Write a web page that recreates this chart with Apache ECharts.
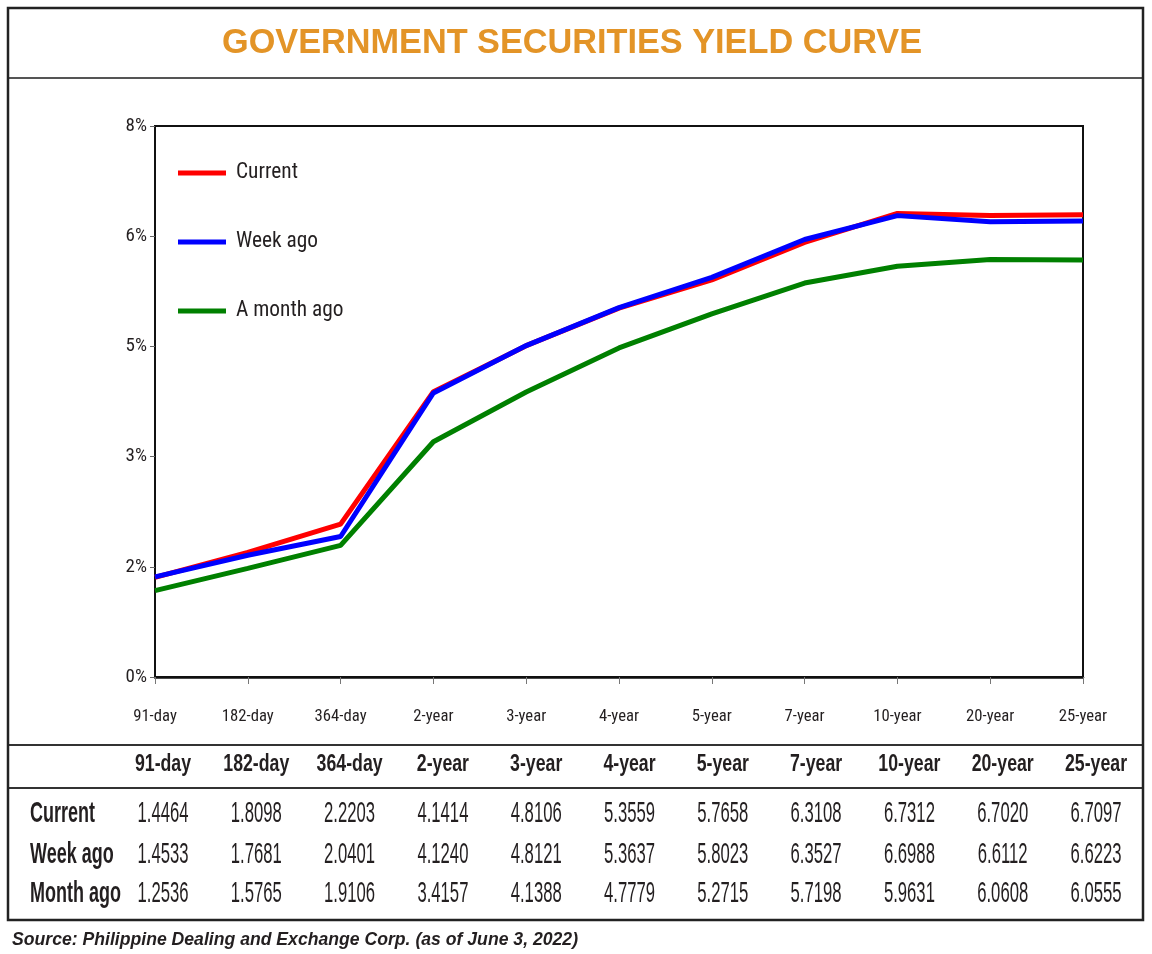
<!DOCTYPE html>
<html>
<head>
<meta charset="utf-8">
<script src="https://cdn.jsdelivr.net/npm/echarts@6/dist/echarts.min.js"></script>
<style>
html,body{margin:0;padding:0;background:#fff;}
#chart{width:1152px;height:954px;}
</style>
</head>
<body>
<div id="chart"></div>
<script>
// ---- data ----
const categories = ['91-day','182-day','364-day','2-year','3-year','4-year','5-year','7-year','10-year','20-year','25-year'];
const current  = [1.4464, 1.8098, 2.2203, 4.1414, 4.8106, 5.3559, 5.7658, 6.3108, 6.7312, 6.7020, 6.7097];
const weekAgo  = [1.4533, 1.7681, 2.0401, 4.1240, 4.8121, 5.3637, 5.8023, 6.3527, 6.6988, 6.6112, 6.6223];
const monthAgo = [1.2536, 1.5765, 1.9106, 3.4157, 4.1388, 4.7779, 5.2715, 5.7198, 5.9631, 6.0608, 6.0555];
const seriesNames = ['Current', 'Week ago', 'A month ago'];
const tableRowLabels = ['Current', 'Week ago', 'Month ago'];
const titleText = 'GOVERNMENT SECURITIES YIELD CURVE';
const sourceText = 'Source: Philippine Dealing and Exchange Corp. (as of June 3, 2022)';

// ---- fonts ----
const mctx = document.createElement('canvas').getContext('2d');
function textW(font, s) { mctx.font = '10px monospace'; mctx.font = font; return mctx.measureText(s).width; }
function hasFont(name) {
  const s = 'Current mmmWWiil 1.4464%';
  return Math.abs(textW('40px monospace', s) - textW('40px "' + name + '", monospace', s)) > 0.01;
}
const CANDIDATES = ['Liberation Sans Narrow','Arial Narrow','Nimbus Sans Narrow','Roboto Condensed','Open Sans Condensed',
  'Noto Sans ExtraCondensed','Noto Sans Condensed','Fira Sans Condensed','Ubuntu Condensed','DejaVu Sans Condensed'];
const found = CANDIDATES.filter(hasFont);
let narrowName = 'DejaVu Sans Condensed', best = Infinity;
found.forEach(n => { const ww = textW('40px "' + n + '"', 'Current 182-day'); if (ww < best) { best = ww; narrowName = n; } });
const NARROW = '"' + narrowName + '", sans-serif';
const SANS = '"Liberation Sans", Arial, sans-serif';
const TXT = '#231f20';

const xLabelSize = Math.min(17, 16 * 52 / textW('16px ' + NARROW, '182-day'));
const yLabelSize = Math.min(19, 18 * 22 / textW('18px ' + NARROW, '8%'));
const legendSize = Math.min(22, 20 * 62 / textW('20px ' + NARROW, 'Current'));

const titleFont = 'bold 35px ' + SANS;
const headFont = 'bold 23px ' + SANS;
const valFont = '30px ' + SANS;
const rowFont = 'bold 30px ' + SANS;
const srcFont = 'italic bold 19px ' + SANS;
const titleScale = 700 / textW(titleFont, titleText);
const headScale = 66 / textW(headFont, '182-day');
const valScale = 51 / textW(valFont, '1.4464');
const rowScale = 65 / textW(rowFont, 'Current');
const srcScale = 566 / textW(srcFont, sourceText);

const chart = echarts.init(document.getElementById('chart'), null, {renderer: 'canvas'});

// table graphic built from the data arrays
const colX = categories.map((c, i) => 163 + 93.3 * i);
const rowY = [814, 855, 894];
const tableRows = [current, weekAgo, monthAgo];
const graphics = [
  {type: 'rect', shape: {x: 8, y: 8, width: 1135, height: 912}, style: {fill: 'none', stroke: '#222', lineWidth: 2.5}, z: 10},
  {type: 'line', shape: {x1: 8, y1: 78, x2: 1143, y2: 78}, style: {stroke: '#555', lineWidth: 2}},
  {type: 'line', shape: {x1: 8, y1: 745, x2: 1143, y2: 745}, style: {stroke: '#333', lineWidth: 2}},
  {type: 'line', shape: {x1: 8, y1: 788, x2: 1143, y2: 788}, style: {stroke: '#333', lineWidth: 2}},
  {type: 'text', x: 572, y: 43, scaleX: titleScale, style: {text: titleText, fill: '#E39427', font: titleFont, textAlign: 'center', textVerticalAlign: 'middle'}},
  {type: 'text', x: 12, y: 940, scaleX: srcScale, style: {text: sourceText, fill: TXT, font: srcFont, textAlign: 'left', textVerticalAlign: 'middle'}}
];
categories.forEach((c, i) => {
  graphics.push({type: 'text', x: colX[i], y: 765, scaleX: headScale, style: {text: c, fill: TXT, font: headFont, textAlign: 'center', textVerticalAlign: 'middle'}});
});
tableRows.forEach((row, r) => {
  graphics.push({type: 'text', x: 30, y: rowY[r], scaleX: rowScale, style: {text: tableRowLabels[r], fill: TXT, font: rowFont, textAlign: 'left', textVerticalAlign: 'middle'}});
  row.forEach((v, i) => {
    graphics.push({type: 'text', x: colX[i], y: rowY[r], scaleX: valScale, style: {text: v.toFixed(4), fill: TXT, font: valFont, textAlign: 'center', textVerticalAlign: 'middle'}});
  });
});

const colors = ['#ff0000', '#0000ff', '#008000'];
const seriesData = [current, weekAgo, monthAgo];

chart.setOption({
  animation: false,
  backgroundColor: '#fff',
  color: colors,
  grid: {left: 155, top: 126, width: 928, height: 551, show: true, borderColor: '#111', borderWidth: 2, backgroundColor: 'transparent'},
  legend: {
    orient: 'vertical', left: 178, top: 162, padding: 0,
    itemWidth: 48, itemHeight: 5, itemGap: 47, icon: 'rect',
    data: seriesNames,
    textStyle: {fontFamily: NARROW, fontSize: legendSize, color: TXT, lineHeight: 22, padding: [0, 0, 0, 5]}
  },
  xAxis: {
    type: 'category', data: categories, boundaryGap: false,
    axisLine: {lineStyle: {color: '#111', width: 2.5}},
    axisTick: {show: true, length: 7, lineStyle: {color: '#777', width: 1}},
    axisLabel: {margin: 31, fontFamily: NARROW, fontSize: xLabelSize, color: TXT, interval: 0}
  },
  yAxis: {
    type: 'value', min: 0, max: 8, interval: 1.6,
    axisLine: {show: true, lineStyle: {color: '#111', width: 2}},
    axisTick: {show: true, length: 5, lineStyle: {color: '#666'}},
    splitLine: {show: false},
    axisLabel: {margin: 8, fontFamily: NARROW, fontSize: yLabelSize, color: TXT,
      formatter: v => Math.round(v) + '%'}
  },
  series: seriesNames.map((n, i) => ({
    name: n, type: 'line', data: seriesData[i], symbol: 'none', smooth: false,
    lineStyle: {width: 5, color: colors[i]}, z: 2
  })),
  graphic: graphics
});
</script>
</body>
</html>
